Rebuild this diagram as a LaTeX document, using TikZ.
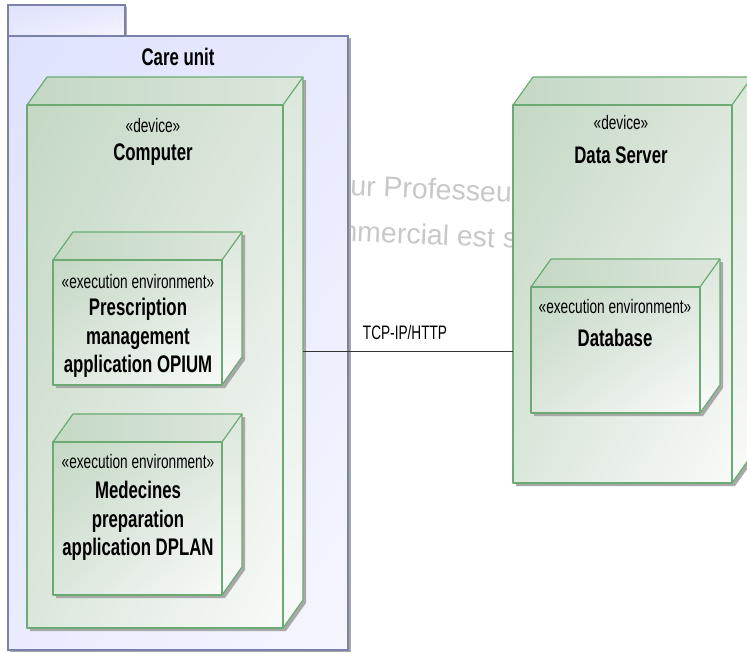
\documentclass[tikz,border=0pt]{standalone}
\usepackage{fontspec}
\setmainfont[FakeStretch=0.7]{Liberation Sans}
\newfontfamily\wmfont{Liberation Sans}
\usetikzlibrary{calc,fit,shadings}

\definecolor{pkgline}{HTML}{7A82AC}
\definecolor{pkgA}{HTML}{DEE2FD}
\definecolor{pkgB}{HTML}{F5F6FE}
\definecolor{boxline}{HTML}{6BAA72}
\definecolor{boxA}{HTML}{C4D8C4}
\definecolor{boxM}{HTML}{DCE7DC}
\definecolor{boxB}{HTML}{F8FAF8}
\definecolor{shadowgray}{HTML}{A8A8A8}
\definecolor{wmgray}{HTML}{C8C8C8}
\definecolor{linkcol}{HTML}{333333}

\tikzset{
  stereo/.style={inner sep=0pt, font=\fontsize{19.5}{22}\selectfont},
  nodename/.style={inner sep=0pt, align=center, font=\fontsize{24}{28.5}\selectfont\bfseries},
  wmtext/.style={inner sep=0pt, text=wmgray, font=\wmfont\fontsize{28.5}{32}\selectfont, rotate=-2.5},
  boxedge/.style={draw=boxline, line width=1.2pt, line join=round},
  pkgedge/.style={draw=pkgline, line width=1.2pt},
  link/.style={draw=linkcol, line width=1pt},
}

% 3D deployment node: name, left, top, right, bottom (front face)
\newcommand\deploybox[5]{%
  \coordinate (#1-tl) at (#2,#3);
  \coordinate (#1-tr) at (#4,#3);
  \coordinate (#1-br) at (#4,#5);
  \coordinate (#1-bl) at (#2,#5);
  \fill[shadowgray] ($(#1-tl)+(23,-25)$) -- ($(#1-tr)+(23,-25)$) -- ($(#1-br)+(23,-25)$)
      -- ($(#1-br)+(3,3)$) -- ($(#1-bl)+(3,3)$) -- ($(#1-tl)+(3,3)$) -- cycle;
  \shade[left color=boxA, right color=boxM] (#1-tl) -- ($(#1-tl)+(20,-28)$) -- ($(#1-tr)+(20,-28)$) -- (#1-tr) -- cycle;
  \shade[top color=boxM, bottom color=boxB] (#1-tr) -- ($(#1-tr)+(20,-28)$) -- ($(#1-br)+(20,-28)$) -- (#1-br) -- cycle;
  \shade[upper left=boxA, upper right=boxM, lower left=boxM, lower right=boxB] (#1-tl) rectangle (#1-br);
  \draw[boxedge] (#1-tl) -- ($(#1-tl)+(20,-28)$) -- ($(#1-tr)+(20,-28)$) -- ($(#1-br)+(20,-28)$) -- (#1-br);
  \draw[boxedge] (#1-tr) -- ($(#1-tr)+(20,-28)$);
  \draw[boxedge] (#1-tl) rectangle (#1-br);
  \node[inner sep=0pt, fit=(#1-tl)(#1-br)] (#1) {};
}

\begin{document}
\begin{tikzpicture}[x=1pt, y=-1pt]
\useasboundingbox (0,0) rectangle (747,653);
\fill[white] (0,0) rectangle (747,653);

% faint licence watermark behind the diagram
\node[wmtext, anchor=base west] (wm1) at (315,194) {Pour Professeur};
\node[wmtext, anchor=base west] (wm2) at (303,239) {commercial est s};

% package "Care unit"
\fill[shadowgray] (10,38) rectangle (351,652);
\fill[shadowgray] (10,7) rectangle (127,36);
\shade[upper left=pkgA, upper right=pkgA!70!pkgB, lower left=pkgA!60!pkgB, lower right=pkgB] (8,5) rectangle (125,36);
\shade[upper left=pkgA, upper right=pkgA!60!pkgB, lower left=pkgA!50!pkgB, lower right=pkgB] (8,36) rectangle (348,650);
\draw[pkgedge] (8,5) rectangle (125,36);
\draw[pkgedge] (8,36) rectangle (348,650);
\node[nodename] (care) at (178,57) {Care unit};

% device: Computer
\deploybox{comp}{27}{105}{283}{628}
\node[stereo] (compst) at (153,126) {«device»};
\node[nodename] (compname) at (153,155) {Computer};

% execution environment: OPIUM
\deploybox{opium}{53}{260}{222}{385}
\node[stereo] (opiumst) at (138,282) {«execution environment»};
\node[nodename] (opiumname) at (138,338) {Prescription\\management\\application OPIUM};

% execution environment: DPLAN
\deploybox{dplan}{53}{442}{222}{595}
\node[stereo] (dplanst) at (138,462) {«execution environment»};
\node[nodename] (dplanname) at (138,521) {Medecines\\preparation\\application DPLAN};

% device: Data Server
\deploybox{server}{513}{105}{732}{483}
\node[stereo] (serverst) at (621,123) {«device»};
\node[nodename] (servername) at (621,155) {Data Server};

% execution environment: Database
\deploybox{db}{531}{287}{700}{413}
\node[stereo] (dbst) at (615,307) {«execution environment»};
\node[nodename] (dbname) at (615,338) {Database};

% communication path
\coordinate (comp-side) at (303,351);
\draw[link] (comp-side) -- (comp-side -| server.west);
\node[stereo] (proto) at (405,333) {TCP-IP/HTTP};
\end{tikzpicture}
\end{document}
